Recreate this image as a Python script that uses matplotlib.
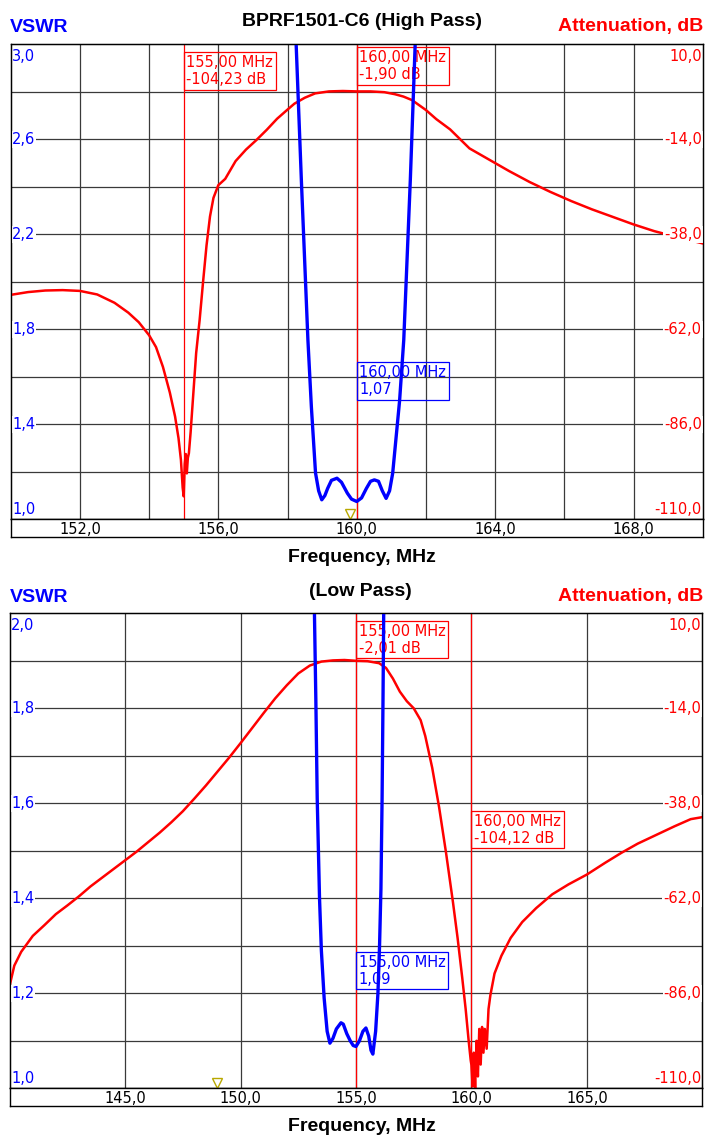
import matplotlib
matplotlib.use('Agg')
import matplotlib.pyplot as plt
import numpy as np

W, H = 720, 1145

# ---------- High Pass panel ----------
hp_att_f = [150.0, 150.5, 151.0, 151.5, 152.0, 152.5, 153.0, 153.4, 153.7, 154.0,
            154.2, 154.4, 154.6, 154.75, 154.85, 154.92, 154.97, 155.0, 155.03, 155.06,
            155.09, 155.12, 155.15, 155.2, 155.28, 155.36, 155.46, 155.56, 155.66, 155.76,
            155.86, 156.0, 156.2, 156.5, 156.8, 157.1, 157.4, 157.7, 158.0, 158.2,
            158.5, 158.8, 159.2, 159.6, 160.0, 160.4, 160.8, 161.1, 161.35, 161.6,
            162.0, 162.3, 162.7, 163.26, 163.8, 164.4, 165.0, 165.6, 166.2, 166.8,
            167.4, 168.0, 168.6, 169.3, 170.0]
hp_att_db = [-53.3, -52.6, -52.2, -52.1, -52.3, -53.2, -55.3, -57.8, -60.2, -63.5,
             -66.5, -71.5, -78.0, -84.0, -89.5, -95.0, -102.0, -104.2, -96.0, -93.5,
             -98.4, -94.5, -93.3, -88.0, -78.0, -68.0, -59.7, -50.0, -40.8, -33.5,
             -28.8, -25.6, -24.0, -19.5, -16.6, -14.2, -11.6, -8.8, -6.5, -5.0,
             -3.5, -2.4, -1.9, -1.8, -1.9, -1.9, -2.1, -2.6, -3.2, -4.1,
             -6.6, -8.9, -11.5, -16.3, -19.0, -22.0, -24.8, -27.3, -29.6, -31.7,
             -33.6, -35.5, -37.2, -38.8, -40.3]
hp_swr_f = [158.2, 158.25, 158.4, 158.59, 158.69, 158.81, 158.9, 158.99, 159.08, 159.16,
            159.27, 159.43, 159.56, 159.73, 159.85, 160.0, 160.14, 160.28, 160.4, 160.51,
            160.63, 160.74, 160.85, 160.95, 161.04, 161.24, 161.36, 161.55, 161.69, 161.73]
hp_swr = [3.15, 3.0, 2.43, 1.755, 1.473, 1.195, 1.12, 1.082, 1.10, 1.13,
          1.164, 1.173, 1.156, 1.11, 1.085, 1.075, 1.09, 1.13, 1.16, 1.166,
          1.16, 1.12, 1.088, 1.12, 1.194, 1.50, 1.755, 2.43, 3.0, 3.15]

# ---------- Low Pass panel ----------
lp_att_f = [140.0, 140.2, 140.5, 141.0, 141.5, 142.0, 142.5, 143.0, 143.5, 144.0,
            144.5, 145.0, 145.5, 146.0, 146.5, 147.0, 147.5, 148.0, 148.5, 149.0,
            149.5, 150.0, 150.5, 151.0, 151.5, 152.0, 152.5, 153.0, 153.5, 154.0,
            154.5, 155.0, 155.5, 156.0, 156.3, 156.6, 156.9, 157.2, 157.5, 157.8,
            158.0, 158.3, 158.6, 158.9, 159.2, 159.4, 159.6, 159.75, 159.88, 159.97,
            160.0, 160.05, 160.1, 160.16, 160.22, 160.28, 160.34, 160.4, 160.46, 160.52,
            160.58, 160.66, 160.74, 160.82, 161.0, 161.3, 161.7, 162.2, 162.8, 163.5,
            164.2, 165.0, 165.8, 166.5, 167.2, 168.0, 168.8, 169.5, 170.0]
lp_att_db = [-84.0, -79.0, -75.5, -71.5, -68.8, -66.0, -63.8, -61.5, -59.0, -56.8,
             -54.6, -52.4, -50.2, -47.8, -45.4, -42.8, -40.0, -36.8, -33.5, -30.0,
             -26.5, -22.8, -19.0, -15.2, -11.5, -8.2, -5.2, -3.2, -2.2, -1.9,
             -1.8, -2.0, -2.1, -2.6, -3.8, -6.5, -9.8, -12.2, -14.0, -17.0,
             -21.0, -29.0, -39.0, -50.5, -63.0, -72.0, -82.0, -90.0, -98.0, -103.0,
             -104.1, -109.5, -101.0, -110.0, -98.0, -107.0, -95.0, -104.0, -94.5, -101.0,
             -95.0, -100.0, -90.0, -86.5, -81.0, -76.5, -72.0, -68.0, -64.5, -61.0,
             -58.5, -56.0, -53.0, -50.5, -48.2, -46.0, -43.8, -42.0, -41.5]
lp_swr_f = [153.15, 153.2, 153.26, 153.32, 153.42, 153.5, 153.62, 153.75, 153.87, 154.0,
            154.15, 154.35, 154.45, 154.6, 154.75, 154.88, 155.0, 155.15, 155.3, 155.43,
            155.55, 155.65, 155.73, 155.85, 155.95, 156.02, 156.08, 156.13, 156.17, 156.2,
            156.22]
lp_swr = [2.05, 2.0, 1.82, 1.61, 1.40, 1.29, 1.19, 1.12, 1.095, 1.105,
          1.125, 1.138, 1.135, 1.115, 1.10, 1.09, 1.088, 1.10, 1.12, 1.127,
          1.11, 1.08, 1.072, 1.12, 1.2, 1.3, 1.42, 1.61, 1.82, 2.0,
          2.05]

att_labels = ['10,0', '-14,0', '-38,0', '-62,0', '-86,0', '-110,0']

RED = '#ff0000'
BLUE = '#0000ff'
GRID = '#3a3a3a'
TICKFONT = dict(family='DejaVu Sans', fontsize=10.5)
BOLDFONT = dict(family=['Liberation Sans', 'DejaVu Sans'], fontsize=14, fontweight='bold')

fig = plt.figure(figsize=(W / 100, H / 100), dpi=100)


def fy(y):
    return 1 - y / H


def panel(top, left, right, xlim, xgrid, xlabels, vmax, vlabels, att_f, att_db, swr_f, swr,
          markers, tri_f, boxes):
    bottom = top + 475
    wpx = right - left
    ax = fig.add_axes([left / W, fy(bottom), wpx / W, 475 / H])
    ax.set_xlim(xlim)
    ax.set_ylim(-110, 10)
    ax.set_xticks([])
    ax.set_yticks([])
    for s in ax.spines.values():
        s.set_color('black')
        s.set_linewidth(1.0)
    for x in xgrid:
        ax.axvline(x, color=GRID, lw=0.9, zorder=1)
    for y in np.linspace(-110, 10, 11)[1:-1]:
        ax.axhline(y, color=GRID, lw=0.9, zorder=1)
    for m in markers:
        ax.axvline(m, color=RED, lw=0.9, zorder=2)
    ax.plot(att_f, att_db, color=RED, lw=1.8, zorder=3)

    # y labels (left VSWR, right attenuation)
    n = len(vlabels) - 1
    for i in range(n + 1):
        frac = 1 - i / n
        if i == 0:
            va, dy = 'top', -0.009
        elif i == n:
            va, dy = 'bottom', 0.004
        else:
            va, dy = 'center', 0
        box = dict(facecolor='white', edgecolor='none', pad=0.6) if 0 < i < n else None
        ax.text(1.5 / wpx, frac + dy, vlabels[i], transform=ax.transAxes, ha='left', va=va,
                color=BLUE, bbox=box, zorder=5, **TICKFONT)
        ax.text(1 - 1 / wpx, frac + dy, att_labels[i], transform=ax.transAxes, ha='right', va=va,
                color=RED, bbox=box, zorder=5, **TICKFONT)

    # marker readout boxes
    for f, yfrac, txt, col in boxes:
        ax.annotate(txt, xy=(f, yfrac), xycoords=ax.get_xaxis_transform(),
                    xytext=(2.0, -2.0), textcoords='offset points', ha='left', va='top',
                    color=col, zorder=6, linespacing=1.15,
                    bbox=dict(boxstyle='square,pad=0.2', facecolor='none', edgecolor=col, lw=0.9),
                    **TICKFONT)

    ax.plot([tri_f], [0.011], marker='v', ms=6.5, mfc='none', mec='#b8a800', mew=1.0,
            transform=ax.get_xaxis_transform(), clip_on=False, zorder=6)

    axv = ax.twinx()
    axv.set_ylim(1.0, vmax)
    axv.set_yticks([])
    axv.plot(swr_f, swr, color=BLUE, lw=2.4)

    # frequency strip
    sa = fig.add_axes([left / W, fy(bottom + 17.7), wpx / W, 17.7 / H])
    sa.set_xlim(xlim)
    sa.set_xticks([])
    sa.set_yticks([])
    for s in sa.spines.values():
        s.set_linewidth(1.0)
    for x, lab in xlabels:
        sa.text(x, 0.45, lab, transform=sa.get_xaxis_transform(), ha='center', va='center',
                color='black', **TICKFONT)
    fig.text(362 / W, fy(bottom + 38), 'Frequency, MHz', ha='center', va='center', **BOLDFONT)


# top panel
fig.text(362 / W, fy(21.5), 'BPRF1501-C6 (High Pass)', ha='center', va='center', **BOLDFONT)
fig.text(10 / W, fy(27), 'VSWR', ha='left', va='center', color=BLUE, **BOLDFONT)
fig.text(703 / W, fy(27), 'Attenuation, dB', ha='right', va='center', color=RED, **BOLDFONT)
panel(44.3, 10.7, 702.7, (150, 170), np.arange(152, 170, 2),
      [(v, f'{v},0') for v in range(152, 170, 4)],
      3.0, ['3,0', '2,6', '2,2', '1,8', '1,4', '1,0'],
      hp_att_f, hp_att_db, hp_swr_f, hp_swr,
      [155, 160], 159.8,
      [(155, 0.983, '155,00 MHz\n-104,23 dB', RED),
       (160, 0.9937, '160,00 MHz\n-1,90 dB', RED),
       (160, 0.3305, '160,00 MHz\n1,07', BLUE)])

# bottom panel
fig.text(360 / W, fy(592), '(Low Pass)', ha='center', va='center', **BOLDFONT)
fig.text(10 / W, fy(597), 'VSWR', ha='left', va='center', color=BLUE, **BOLDFONT)
fig.text(703 / W, fy(597), 'Attenuation, dB', ha='right', va='center', color=RED, **BOLDFONT)
panel(613.3, 9.7, 702.3, (140, 170), np.arange(145, 170, 5),
      [(v, f'{v},0') for v in range(145, 170, 5)],
      2.0, ['2,0', '1,8', '1,6', '1,4', '1,2', '1,0'],
      lp_att_f, lp_att_db, lp_swr_f, lp_swr,
      [155, 160], 149.0,
      [(155, 0.9838, '155,00 MHz\n-2,01 dB', RED),
       (160, 0.5838, '160,00 MHz\n-104,12 dB', RED),
       (155, 0.287, '155,00 MHz\n1,09', BLUE)])

fig.savefig('out.png', dpi=100, facecolor='white')
